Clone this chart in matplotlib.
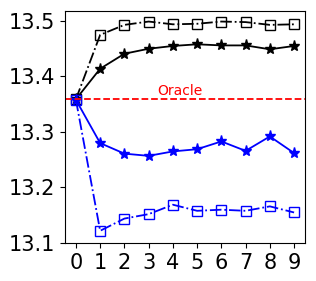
import matplotlib
matplotlib.use('Agg')
import matplotlib.pyplot as plt

steps = list(range(10))
black_square = [13.359, 13.475, 13.493, 13.499, 13.494, 13.495, 13.499, 13.498, 13.493, 13.494]
black_star = [13.359, 13.414, 13.441, 13.450, 13.455, 13.458, 13.456, 13.456, 13.449, 13.455]
blue_star = [13.358, 13.280, 13.261, 13.257, 13.265, 13.269, 13.283, 13.266, 13.292, 13.262]
blue_square = [13.358, 13.122, 13.144, 13.152, 13.169, 13.158, 13.160, 13.158, 13.166, 13.155]
oracle = 13.359

fig = plt.figure(figsize=(3.16, 2.81), dpi=100)
ax = fig.add_axes([65 / 316, 38 / 281, 240 / 316, 232 / 281])

ax.plot(steps, black_square, color='black', linestyle='-.', marker='s',
        markerfacecolor='none', markersize=7, linewidth=1.3)
ax.plot(steps, black_star, color='black', linestyle='-', marker='*',
        markersize=8, linewidth=1.3)
ax.plot(steps, blue_star, color='blue', linestyle='-', marker='*',
        markersize=8, linewidth=1.3)
ax.plot(steps, blue_square, color='blue', linestyle='-.', marker='s',
        markerfacecolor='none', markersize=7, linewidth=1.3)

ax.axhline(oracle, color='red', linestyle='--', linewidth=1.3)
ax.text(4.3, oracle + 0.003, 'Oracle', color='red', fontsize=10,
        ha='center', va='bottom')

ax.set_xlim(-0.45, 9.45)
ax.set_ylim(13.1, 13.518)
ax.set_xticks(steps)
ax.set_yticks([13.1, 13.2, 13.3, 13.4, 13.5])
ax.tick_params(labelsize=15)

fig.savefig('out.png', dpi=100)
